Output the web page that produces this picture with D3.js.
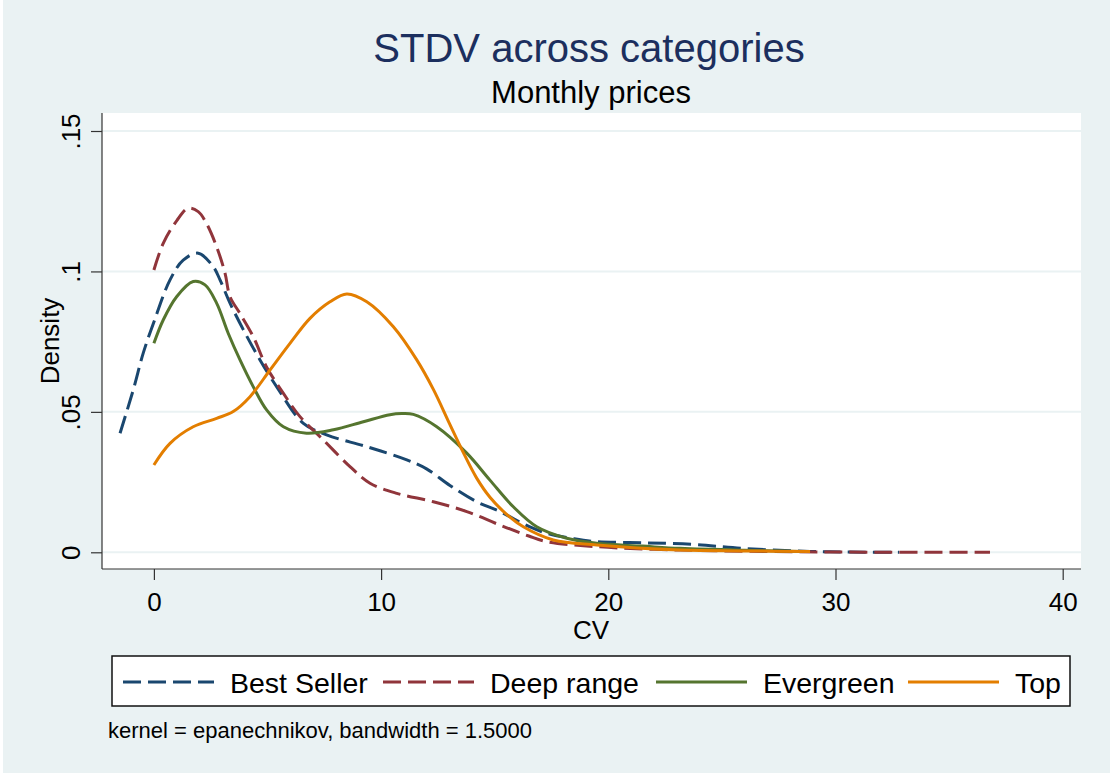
<!DOCTYPE html>
<html>
<head>
<meta charset="utf-8">
<script src="https://cdn.jsdelivr.net/npm/d3@7"></script>
<style>
  body { margin: 0; background: #fff; }
  text { font-family: "Liberation Sans", Arial, sans-serif; }
</style>
</head>
<body>
<div id="chart"></div>
<script>
// kernel density estimates: [CV, density]
const bestSeller = [[-1.49,0.0424],[-0.91,0.0578],[-0.47,0.0709],[0,0.082],[0.71,0.097],[1.29,0.104],[1.95,0.1065],
  [2.61,0.1017],[2.91,0.097],[3.35,0.0887],[3.94,0.0792],[4.67,0.0685],[5.4,0.059],[6.58,0.0459],[7.6,0.0418],
  [9.37,0.0376],[11.13,0.0329],[12.0,0.0297],[13.03,0.0238],[14.21,0.018],[15.23,0.0145],[16.5,0.0092],[17.29,0.0068],
  [18.5,0.0048],[19.49,0.0038],[21.54,0.0034],[23.74,0.0028],[25.94,0.0014],[28.88,0.0003],[30.5,0.0001],[32.8,0]]

const deepRange = [[0,0.1005],[0.41,0.110],[1.0,0.118],[1.51,0.1225],[1.95,0.1213],[2.32,0.117],[2.76,0.1088],
  [3.13,0.0994],[3.35,0.091],[3.79,0.085],[4.37,0.0768],[4.96,0.066],[5.7,0.0566],[6.43,0.0483],[7.46,0.04],
  [8.63,0.0305],[9.51,0.0246],[10.69,0.021],[12.3,0.018],[13.77,0.0145],[15.23,0.0097],[16.5,0.0058],[17.29,0.0038],
  [19.49,0.002],[23.16,0.0008],[27,0.0003],[30,0.0001],[36.8,0]]

const evergreen = [[0,0.0744],[0.41,0.0827],[1.0,0.091],[1.73,0.0964],[2.25,0.0952],[2.76,0.0887],[3.27,0.078],
  [3.79,0.0685],[4.37,0.059],[4.96,0.0507],[5.7,0.0447],[6.72,0.0424],[7.9,0.0436],[9.22,0.0465],[10.39,0.049],
  [10.9,0.0494],[11.42,0.0491],[12.45,0.0447],[13.77,0.0353],[14.79,0.0257],[15.82,0.0162],[16.85,0.0091],[18.17,0.005],
  [19.49,0.0032],[21.5,0.0022],[23.16,0.0014],[26,0.0007],[28.5,0.0003]]

const top_ = [[0,0.0311],[0.71,0.0388],[1.73,0.0447],[2.76,0.0477],[3.49,0.0501],[4.23,0.0554],[5.11,0.0649],
  [5.99,0.0744],[6.87,0.0833],[7.75,0.0892],[8.49,0.092],[9.37,0.0892],[10.54,0.0803],[11.57,0.0685],[12.3,0.058],
  [13.0,0.046],[13.62,0.0355],[14.2,0.0265],[14.8,0.0195],[15.5,0.0137],[16.26,0.0091],[17.58,0.0044],[19.49,0.0026],
  [23.16,0.0008],[26,0.0005],[28.88,0.0003]]

const seriesNames = ["Best Seller", "Deep range", "Evergreen", "Top"]
const seriesData = [bestSeller, deepRange, evergreen, top_]
const xTicks = [0, 10, 20, 30, 40]
const yTicks = [0, 0.05, 0.1, 0.15]
const yTickLabels = ["0", ".05", ".1", ".15"]

let width = 1110
let height = 773

let colors = ["#1a476f", "#90353b", "#55752f", "#e37e00"]
let dashes = ["18,7", "18,7", null, null]
let bg = "#eaf2f3"

// plot region
let left = 102, right = 1081, topY = 113, bottom = 569

let x = d3.scaleLinear().domain([0, 40]).range([153.9, 1062.7])
let y = d3.scaleLinear().domain([0, 0.15]).range([552.3, 131])

let svg = d3.select("#chart").append("svg")
  .attr("width", width)
  .attr("height", height)

svg.append("rect").attr("x", 3).attr("y", 0).attr("width", width - 3).attr("height", height).attr("fill", bg)
svg.append("rect").attr("x", left).attr("y", topY).attr("width", right - left).attr("height", bottom - topY).attr("fill", "white")

// gridlines
svg.selectAll(".grid")
  .data(yTicks)
  .join("line")
  .attr("class", "grid")
  .attr("x1", left).attr("x2", right)
  .attr("y1", d => y(d)).attr("y2", d => y(d))
  .style("stroke", bg)
  .style("stroke-width", 2)

// axes
let xAxis = d3.axisBottom(x).tickValues(xTicks).tickSize(11).tickPadding(6).tickFormat(d3.format("d"))
let gx = svg.append("g").attr("transform", `translate(0,${bottom})`).call(xAxis)
gx.select(".domain").attr("d", `M${left},0H${right}`)
gx.selectAll("text").style("font-size", "26px").style("fill", "#000").attr("dy", "0.95em")
gx.selectAll("line, path").style("stroke", "#333").style("stroke-width", 1.2)

let yAxis = d3.axisLeft(y).tickValues(yTicks).tickSize(11).tickFormat((d, i) => yTickLabels[i])
let gy = svg.append("g").attr("transform", `translate(${left},0)`).call(yAxis)
gy.select(".domain").attr("d", `M0,${topY}V${bottom}`)
gy.selectAll("line, path").style("stroke", "#333").style("stroke-width", 1.2)
gy.selectAll("text")
  .style("font-size", "26px").style("fill", "#000")
  .attr("x", null).attr("dy", null)
  .attr("text-anchor", "middle")
  .attr("transform", "translate(-22,0) rotate(-90)")

// density curves
let line = d3.line()
  .x(d => x(d[0]))
  .y(d => y(d[1]))
  .curve(d3.curveCatmullRom.alpha(0.5))

svg.selectAll(".curve")
  .data(seriesData)
  .join("path")
  .attr("class", "curve")
  .attr("d", line)
  .style("fill", "none")
  .style("stroke", (d, i) => colors[i])
  .style("stroke-width", 3)
  .style("stroke-dasharray", (d, i) => dashes[i])

// titles
svg.append("text").attr("x", 589).attr("y", 61.5).attr("text-anchor", "middle")
  .style("font-size", "40px").style("fill", "#1c2f5e").text("STDV across categories")
svg.append("text").attr("x", 591).attr("y", 103).attr("text-anchor", "middle")
  .style("font-size", "31px").style("fill", "#000").text("Monthly prices")
svg.append("text").attr("x", 591).attr("y", 639).attr("text-anchor", "middle")
  .style("font-size", "26px").text("CV")
svg.append("text").attr("transform", "translate(59,341) rotate(-90)").attr("text-anchor", "middle")
  .style("font-size", "26px").text("Density")

// legend
svg.append("rect").attr("x", 112).attr("y", 656).attr("width", 958).attr("height", 50)
  .style("fill", "white").style("stroke", "#111").style("stroke-width", 1.5)

let legendX = [123, 383, 656, 908]
let legend = svg.selectAll(".legend")
  .data(seriesNames)
  .join("g")
  .attr("class", "legend")
  .attr("transform", (d, i) => `translate(${legendX[i]},682)`)

legend.append("line")
  .attr("x1", 0).attr("x2", 91)
  .style("stroke", (d, i) => colors[i])
  .style("stroke-width", 3)
  .style("stroke-dasharray", (d, i) => dashes[i])

legend.append("text")
  .attr("x", 107).attr("y", 11)
  .style("font-size", "28.5px")
  .text(d => d)

svg.append("text").attr("x", 108).attr("y", 738)
  .style("font-size", "22px").text("kernel = epanechnikov, bandwidth = 1.5000")
</script>
</body>
</html>
